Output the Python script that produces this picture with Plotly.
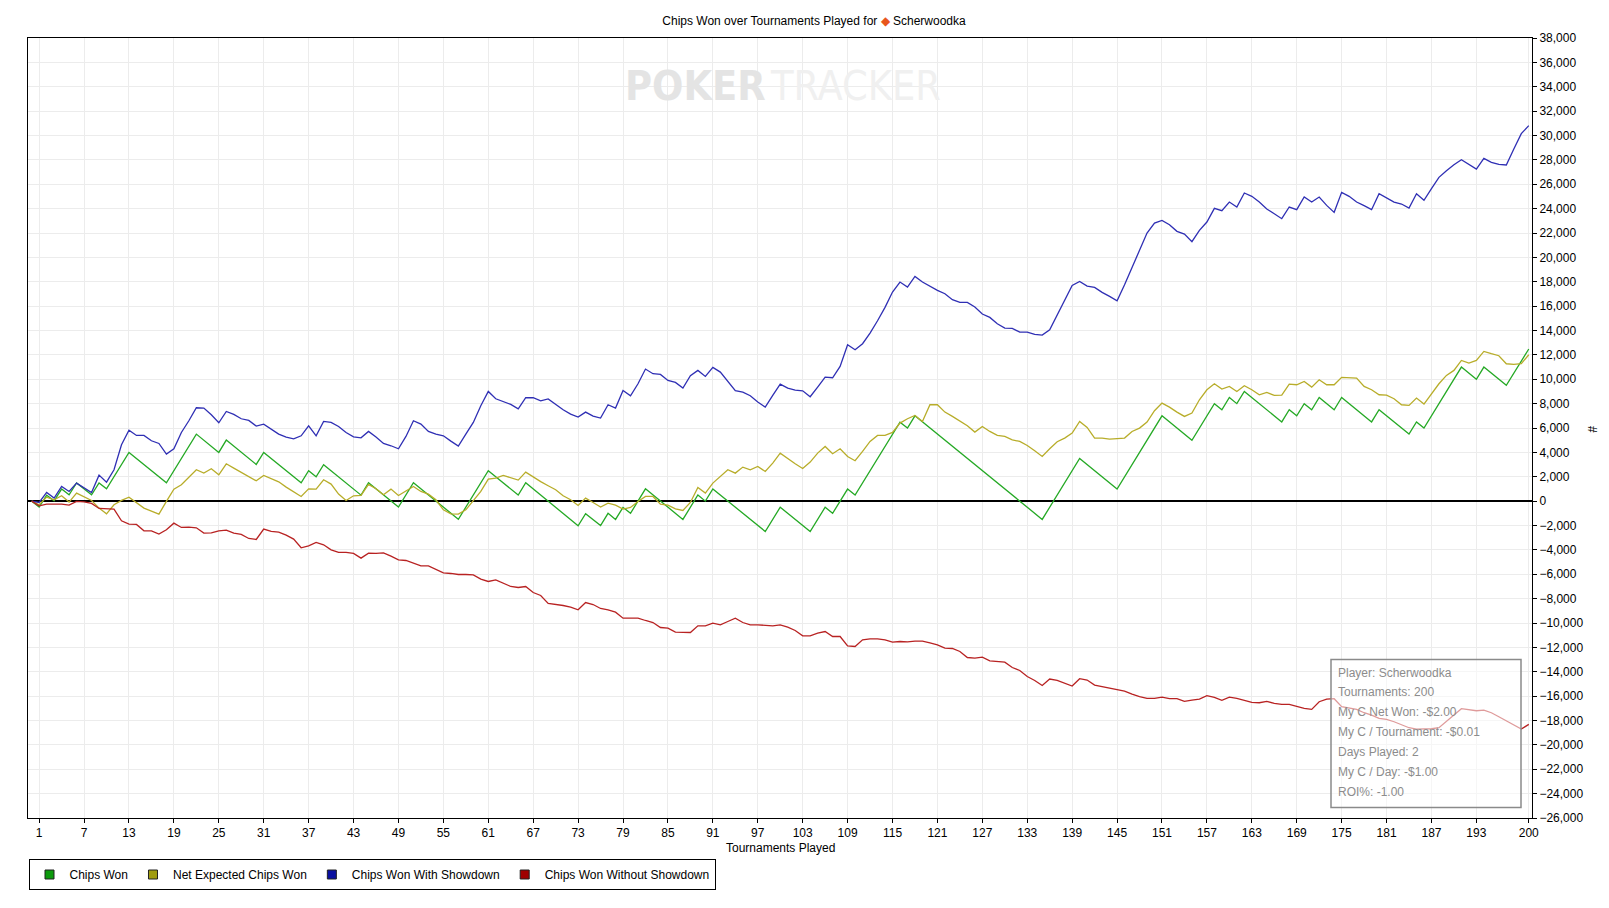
import plotly.graph_objects as go

# tournaments 0..200 (0 = starting point)
tournaments = list(range(0, 201))

chips_with_showdown = [
    0, -110, 711, 246, 1204, 793, 1477, 1094, 711, 2134,
    1560, 2572, 4624, 5828, 5390, 5390, 4952, 4733, 3858, 4296,
    5636, 6594, 7661, 7633, 7086, 6430, 7360, 7114, 6758, 6621,
    6156, 6320, 5937, 5499, 5253, 5116, 5362, 6183, 5362, 6539,
    6457, 6128, 5636, 5280, 5198, 5718, 5253, 4733, 4542, 4296,
    5308, 6594, 6320, 5718, 5499, 5362, 4925, 4514, 5499, 6457,
    7825, 9001, 8399, 8180, 7934, 7579, 8482, 8482, 8230, 8390,
    7907, 7497, 7141, 6895, 7305, 6977, 6813, 7907, 7634, 9084,
    8646, 9631, 10835, 10452, 10397, 9904, 9740, 9275, 10287, 10725,
    10233, 10971, 10588, 9822, 9056, 8947, 8646, 8126, 7716, 8673,
    9603, 9275, 9111, 9056, 8564, 9357, 10178, 10123, 11053, 12832,
    12421, 12914, 13789, 14802, 15896, 17155, 17975, 17565, 18441, 17975,
    17620, 17292, 17018, 16525, 16306, 16306, 15923, 15349, 15075, 14555,
    14200, 14173, 13872, 13872, 13680, 13625, 14063, 15300, 16526, 17702,
    18030, 17647, 17538, 17127, 16799, 16443, 17757, 19207, 20684, 21997,
    22818, 23037, 22682, 22135, 21916, 21286, 22216, 22900, 24022, 23831,
    24542, 24132, 25281, 25007, 24542, 23967, 23584, 23174, 24132, 23913,
    24953, 24542, 24953, 24269, 23694, 25336, 25007, 24542, 24241, 23913,
    25226, 24870, 24542, 24378, 24050, 25226, 24679, 25636, 26566, 27114,
    27606, 28017, 27606, 27251, 28126, 27798, 27634, 27579, 28892, 30151,
    30807,
]

chips_without_showdown = [
    0, -383, -246, -246, -246, -328, -27, -55, -192, -602,
    -629, -657, -1614, -1888, -1915, -2435, -2435, -2709, -2353, -1806,
    -2161, -2134, -2189, -2627, -2599, -2435, -2380, -2627, -2736, -3064,
    -3146, -2298, -2490, -2545, -2791, -3119, -3830, -3666, -3393, -3584,
    -3995, -4213, -4213, -4295, -4679, -4268, -4295, -4241, -4514, -4815,
    -4870, -5089, -5308, -5308, -5581, -5882, -5937, -6019, -6019, -6047,
    -6402, -6594, -6457, -6731, -7004, -7086, -7004, -7497, -7743, -8400,
    -8454, -8564, -8700, -8919, -8318, -8482, -8810, -8919, -9111, -9603,
    -9603, -9603, -9795, -9959, -10370, -10424, -10753, -10780, -10780, -10233,
    -10233, -10014, -10151, -9877, -9603, -9959, -10151, -10151, -10205, -10233,
    -10151, -10342, -10616, -11053, -11053, -10835, -10698, -11108, -11108, -11874,
    -11929, -11382, -11300, -11300, -11382, -11573, -11519, -11546, -11491, -11491,
    -11628, -11792, -12066, -12093, -12339, -12832, -12887, -12805, -13106, -13133,
    -13215, -13653, -13899, -14392, -14720, -15130, -14600, -14700, -14955, -15174,
    -14572, -14681, -15092, -15228, -15365, -15502, -15584, -15830, -16049, -16186,
    -16186, -16077, -16213, -16213, -16432, -16323, -16241, -15967, -16104, -16350,
    -16077, -16186, -16323, -16514, -16542, -16432, -16596, -16679, -16679, -16870,
    -17007, -17089, -16460, -16241, -16213, -16870, -17007, -17089, -17363, -17554,
    -17828, -17910, -18102, -18375, -18594, -18703, -18703, -18676, -18594, -18102,
    -17554, -17034, -17089, -17198, -17143, -17363, -17691, -18047, -18375, -18703,
    -18320,
]

net_expected = [
    0, -300, 328, 109, 438, -82, 657, 328, 55, -575,
    -1040, -300, 55, 328, -150, -575, -820, -1067, -27, 985,
    1340, 1970, 2572, 2298, 2654, 2161, 3064, 2709, 2353, 2025,
    1669, 2107, 1860, 1587, 1149, 739, 383, 1012, 985, 1751,
    1395, 575, 55, 438, 465, 1368, 1012, 520, 985, 465,
    848, 1204, 793, 575, 109, -711, -1040, -1067, -711, 55,
    793, 1806, 1888, 2107, 1943, 1724, 2380, 1970, 1600, 1259,
    930, 438, 109, -356, 246, -109, -492, -164, -328, -657,
    -520, -27, 383, 383, -246, -328, -629, -766, -109, 1122,
    657, 1477, 2025, 2572, 2298, 2791, 2572, 2845, 2435, 3119,
    3940, 3475, 3064, 2681, 3201, 3940, 4487, 3885, 4296, 3666,
    3311, 4077, 4897, 5390, 5390, 5636, 6402, 6758, 7032, 6539,
    7907, 7907, 7305, 6949, 6539, 6183, 5663, 6128, 5718, 5390,
    5308, 5034, 4897, 4569, 4131, 3666, 4300, 4870, 5171, 5581,
    6539, 6047, 5171, 5171, 5089, 5144, 5171, 5718, 5992, 6484,
    7415, 8044, 7716, 7305, 6949, 7223, 8318, 9138, 9631, 9193,
    9412, 9001, 9467, 9138, 8728, 8919, 8673, 8701, 9603, 9549,
    9822, 9357, 9959, 9549, 9549, 10151, 10151, 10096, 9412, 9138,
    8728, 8701, 8400, 7907, 7852, 8454, 7962, 8810, 9631, 10315,
    10725, 11546, 11327, 11546, 12285, 12093, 11929, 11272, 11218, 11272,
    12011,
]

# chips won: turning points of the line (tournament, chips)
won_tournaments = [
    0, 1, 2, 3, 4, 5, 6, 8, 9, 10, 13, 18, 22, 25, 26, 30, 31, 36, 37, 38,
    39, 44, 45, 49, 51, 57, 61, 65, 66, 73, 74, 76, 77, 78, 79, 80, 82, 87,
    89, 90, 91, 98, 100, 104, 106, 107, 109, 110, 116, 117, 118, 135, 140,
    145, 151, 155, 158, 159, 160, 161, 162, 167, 168, 169, 170, 171, 172,
    174, 175, 179, 180, 184, 185, 186, 191, 193, 194, 197, 200,
]
chips_won = [
    0, -480, 480, 20, 990, 520, 1490, 520, 1490, 1010, 3995, 1505, 5499,
    3995, 5007, 3010, 3995, 1505, 2490, 1997, 2982, 492, 1505, -492, 1505,
    -1490, 2490, 500, 1505, -2020, -1030, -2010, -1000, -1500, -510, -1000,
    1010, -1500, 500, 0, 1000, -2490, -500, -2490, -500, -1000, 990, 500,
    6480, 6000, 7000, -1500, 3500, 990, 7000, 4990, 7990, 7500, 8500, 8000,
    9000, 6500, 7500, 7000, 8000, 7500, 8500, 7500, 8500, 6500, 7500, 5500,
    6500, 6000, 11000, 10000, 11000, 9500, 12480,
]

x_tick_vals = [1, 7, 13, 19, 25, 31, 37, 43, 49, 55, 61, 67, 73, 79, 85, 91,
               97, 103, 109, 115, 121, 127, 133, 139, 145, 151, 157, 163, 169,
               175, 181, 187, 193, 200]

stats_lines = [
    "Player: Scherwoodka",
    "Tournaments: 200",
    "My C Net Won: -$2.00",
    "My C / Tournament: -$0.01",
    "Days Played: 2",
    "My C / Day: -$1.00",
    "ROI%: -1.00",
]

# the page puts the figure 8px in from the window corner
OFF = 8
W, H = 1601, 900
L, R, T, B = 20, 77, 30, 90
PW, PH = W - L - R, H - T - B


def px(x):
    # window pixel -> paper x
    return (x - OFF - L) / PW


def py(y):
    # window pixel -> paper y
    return (T + PH - (y - OFF)) / PH


series = [
    ("Chips Won", won_tournaments, chips_won, "#25a925", "#0c9a0c"),
    ("Net Expected Chips Won", tournaments, net_expected, "#b8ad2a", "#a09c10"),
    ("Chips Won With Showdown", tournaments, chips_with_showdown, "#2f2fb4", "#0a10a0"),
    ("Chips Won Without Showdown", tournaments, chips_without_showdown, "#b82222", "#a00000"),
]

fig = go.Figure()
for name, xs, ys, col, _ in series:
    fig.add_trace(go.Scatter(x=xs, y=ys, mode="lines", name=name,
                             line=dict(color=col, width=1.3), showlegend=False))
# legend entries with square swatches
for name, _, _, _, sw in series:
    fig.add_trace(go.Scatter(x=[None], y=[None], mode="markers", name=name,
                             marker=dict(symbol="square", size=9, color=sw,
                                         line=dict(color="#222", width=1))))

font = "Liberation Sans, Arial, sans-serif"

fig.update_layout(
    width=W, height=H,
    margin=dict(l=L, r=R, t=T, b=B),
    paper_bgcolor="white", plot_bgcolor="white",
    font=dict(family=font, size=12, color="black"),
    hovermode=False,
    title=dict(
        text="Chips Won over Tournaments Played for "
             "<span style='color:#e8561c'>◆</span> Scherwoodka",
        x=(814 - OFF) / W, xanchor="center", y=1 - (20.5 - OFF) / H,
        yanchor="middle", font=dict(size=12, color="black"),
    ),
    xaxis=dict(
        range=[-0.49, 200.43], tickmode="array", tickvals=x_tick_vals,
        showgrid=True, gridcolor="#ececec", gridwidth=1, zeroline=False,
        showline=True, linecolor="black", linewidth=1, mirror=True,
        ticks="outside", ticklen=4, tickcolor="black",
        tickfont=dict(size=12),
    ),
    yaxis=dict(
        range=[-26000, 38000], dtick=2000, tick0=0, tickformat=",d",
        side="right", showgrid=True, gridcolor="#ececec", gridwidth=1,
        zeroline=True, zerolinecolor="black", zerolinewidth=1.5,
        showline=True, linecolor="black", linewidth=1, mirror=True,
        ticks="outside", ticklen=4, tickcolor="black",
        tickfont=dict(size=12),
    ),
    legend=dict(
        orientation="h", x=px(28.5), xanchor="left", y=py(859), yanchor="top",
        bordercolor="black", borderwidth=1, bgcolor="white",
        font=dict(size=12), itemwidth=30,
    ),
)

# axis titles
fig.add_annotation(text="Tournaments Played", xref="paper", yref="paper",
                   x=px(780), y=py(848), xanchor="center", yanchor="middle",
                   showarrow=False, font=dict(size=12))
fig.add_annotation(text="#", xref="paper", yref="paper", x=px(1592), y=py(429),
                   xanchor="center", yanchor="middle",
                   showarrow=False, textangle=90, font=dict(size=12))

# watermark
wm_font = "Liberation Sans Narrow, DejaVu Sans Condensed, Roboto"
fig.add_annotation(text="<b>POKER</b>", xref="paper", yref="paper",
                   x=px(768), y=py(86), xanchor="right", yanchor="middle",
                   showarrow=False,
                   font=dict(family=wm_font, size=41, color="#e4e4e4"))
fig.add_annotation(text="TRACKER", xref="paper", yref="paper",
                   x=px(768), y=py(86), xanchor="left", yanchor="middle",
                   showarrow=False,
                   font=dict(family=wm_font, size=41, color="#f0f0f0"))

# stats box
fig.add_shape(type="rect", xref="paper", yref="paper",
              x0=px(1331), x1=px(1521), y0=py(807.5), y1=py(659.5),
              line=dict(color="#8a8a8a", width=1.5),
              fillcolor="rgba(255,255,255,0.55)", layer="above")
for i, line in enumerate(stats_lines):
    fig.add_annotation(text=line, xref="paper", yref="paper",
                       x=px(1336), y=py(672.5 + i * 19.9), xanchor="left",
                       yanchor="middle", showarrow=False,
                       font=dict(family="Liberation Sans, Arial", size=12,
                                 color="#8c8c8c"))

fig.write_html("out.html")
